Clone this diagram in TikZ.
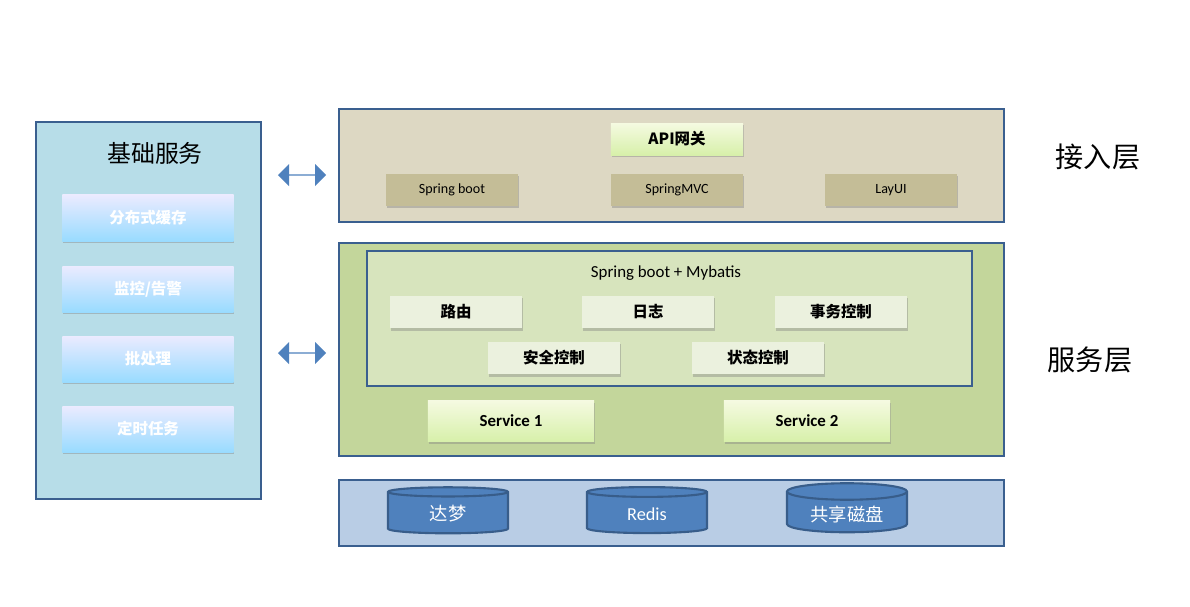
\documentclass[tikz,border=0pt]{standalone}
\usepackage{fontspec}
\setmainfont{Carlito}
\newfontfamily\cjk{Noto Sans CJK SC}
\usetikzlibrary{shapes.geometric,shapes.arrows,shadows}

\definecolor{edgeblue}{HTML}{3A5F8F}
\definecolor{arrowblue}{HTML}{4F81BD}
\tikzset{
    layer/.style={draw=edgeblue, line width=1.2pt},
    basebtn/.style={minimum width=4.275cm, minimum height=1.15cm, top color=blue!8, bottom color=blue!35!cyan!40, draw=none,
        drop shadow={shadow xshift=0.5pt, shadow yshift=-1.5pt, opacity=0.4}, text=white, font=\cjk\bfseries\fontsize{11}{13}\selectfont},
    tan/.style={minimum width=3.3cm, minimum height=0.8cm, fill=brown!45!yellow!45!gray!80, fill={rgb,255:red,196;green,189;blue,151},
        drop shadow={shadow xshift=0.5pt, shadow yshift=-1.5pt, opacity=0.4}, font=\fontsize{10}{12}\selectfont},
    light/.style={minimum width=3.3cm, minimum height=0.82cm, fill={rgb,255:red,235;green,241;blue,222},
        drop shadow={shadow xshift=0.5pt, shadow yshift=-1.5pt, opacity=0.4}, font=\cjk\bfseries\fontsize{11}{13}\selectfont},
    svc/.style={minimum width=4.15cm, minimum height=1.02cm, top color={rgb,255:red,245;green,250;blue,225}, bottom color={rgb,255:red,215;green,240;blue,170},
        drop shadow={shadow xshift=0.5pt, shadow yshift=-1.5pt, opacity=0.4}, font=\bfseries\fontsize{12}{14}\selectfont},
    db/.style={cylinder, shape border rotate=90, aspect=0.2, minimum width=3cm, minimum height=1.15cm,
        fill=arrowblue, draw={rgb,255:red,56;green,93;blue,138}, line width=1.5pt, text=white, font=\cjk\fontsize{13}{15}\selectfont},
    twoway/.style={double arrow, fill=arrowblue, minimum width=0.55cm, minimum height=1.2cm, double arrow head extend=0.1cm, inner sep=0pt},
    side/.style={font=\cjk\fontsize{20}{24}\selectfont}
}

\begin{document}
\begin{tikzpicture}[x=0.025cm, y=-0.025cm]
    \useasboundingbox (0,0) rectangle (1190,606);

    % basic services column
    \draw[layer, fill={rgb,255:red,183;green,221;blue,232}] (36,122) rectangle (261,499);
    \node[font=\cjk\fontsize{17}{20}\selectfont] (base) at (155,153) {基础服务};
    \node[basebtn] (cache) at (148,218) {分布式缓存};
    \node[basebtn] (mon) at (148,289) {监控/告警};
    \node[basebtn] (batch) at (148,359) {批处理};
    \node[basebtn] (timer) at (148,429) {定时任务};

    \node[twoway] (arrTop) at (302,175) {};
    \node[twoway] (arrMid) at (302,353) {};

    % access layer
    \draw[layer, fill={rgb,255:red,221;green,216;blue,195}] (339,109) rectangle (1004,222);
    \node[svc, minimum width=3.3cm, minimum height=0.8cm, font=\cjk\bfseries\fontsize{11}{13}\selectfont] (gw) at (677,139) {API网关};
    \node[tan] (sb) at (452,190) {Spring boot};
    \node[tan] (mvc) at (677,190) {SpringMVC};
    \node[tan] (ui) at (891,190) {LayUI};

    % service layer
    \draw[layer, fill={rgb,255:red,195;green,214;blue,155}] (339,243) rectangle (1004,456);
    \draw[layer, fill={rgb,255:red,215;green,228;blue,189}] (367,251) rectangle (972,386);
    \node[font=\fontsize{12}{14}\selectfont] (frame) at (666,273) {Spring boot + Mybatis};
    \node[light] (route) at (456,312) {路由};
    \node[light] (log) at (648,312) {日志};
    \node[light] (tx) at (841,312) {事务控制};
    \node[light] (sec) at (554,358) {安全控制};
    \node[light] (state) at (758,358) {状态控制};
    \node[svc] (s1) at (511,421) {Service 1};
    \node[svc] (s2) at (807,421) {Service 2};

    % storage
    \draw[layer, fill={rgb,255:red,185;green,205;blue,229}] (339,480) rectangle (1004,546);
    \node[db] (dm) at (448,514) {达梦};
    \node[db, font=\fontsize{13}{15}\selectfont] (redis) at (647,514) {Redis};
    \node[db] (disk) at (847,514) {共享磁盘};

    \node[side] (lblA) at (1098,157) {接入层};
    \node[side] (lblS) at (1090,360) {服务层};
\end{tikzpicture}
\end{document}
